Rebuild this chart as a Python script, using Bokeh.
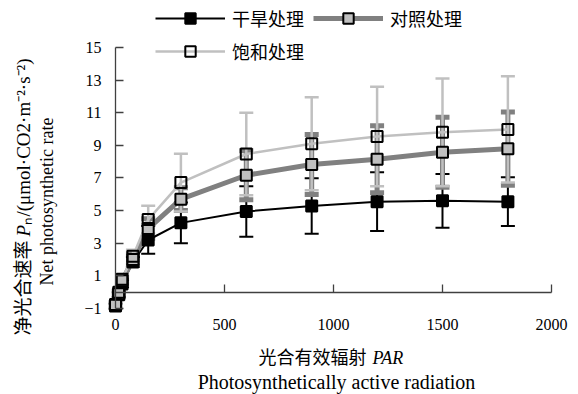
from math import pi
from bokeh.plotting import figure
from bokeh.models import (ColumnDataSource, Range1d, LinearAxis, FixedTicker, Whisker,
                          TeeHead, Legend, LegendItem, Label)
from bokeh.embed import file_html
from bokeh.resources import INLINE

# ---- data ----
par = [0, 15, 30, 80, 150, 300, 600, 900, 1200, 1500, 1800]
drought = [-0.85, -0.15, 0.5, 1.85, 3.2, 4.25, 4.95, 5.28, 5.55, 5.6, 5.55]
drought_sd = [0.15, 0.15, 0.2, 0.3, 0.85, 1.25, 1.55, 1.7, 1.8, 1.65, 1.5]
control = [-0.8, -0.1, 0.7, 2.0, 3.9, 5.7, 7.17, 7.83, 8.15, 8.58, 8.8]
control_sd = [0.15, 0.15, 0.2, 0.35, 0.6, 0.7, 1.5, 1.84, 2.05, 2.15, 2.24]
saturated = [-0.75, 0.0, 0.8, 2.2, 4.45, 6.72, 8.47, 9.1, 9.55, 9.8, 9.98]
saturated_sd = [0.15, 0.15, 0.2, 0.4, 0.85, 1.77, 2.53, 2.85, 3.05, 3.3, 3.25]

series_names = ["干旱处理", "对照处理", "饱和处理"]
x_ticks = [0, 500, 1000, 1500, 2000]
y_ticks = [-1, 1, 3, 5, 7, 9, 11, 13, 15]

FONT = "Liberation Serif, Noto Sans CJK SC"
AX = "#404040"
W, H = 578, 394


def make_src(vals, sd):
    return ColumnDataSource(dict(
        par=par, y=vals,
        upper=[v + s for v, s in zip(vals, sd)],
        lower=[v - s for v, s in zip(vals, sd)],
    ))


src_d = make_src(drought, drought_sd)
src_c = make_src(control, control_sd)
src_s = make_src(saturated, saturated_sd)

# frame covers the whole canvas; data 0 -> px 115, 2000 -> px 551; y 0 -> px 291.7, 15 -> px 47
p = figure(width=W, height=H, output_backend="svg", toolbar_location=None,
           x_range=Range1d(-527.5, 2123.9), y_range=Range1d(-6.271, 17.88),
           x_axis_location=None, y_axis_location=None,
           min_border_left=0, min_border_right=0, min_border_top=0,
           min_border_bottom=0)
p.outline_line_color = None
p.xgrid.visible = False
p.ygrid.visible = False
p.background_fill_color = "white"
p.border_fill_color = "white"

# ---- error bars ----
styles = [
    (src_d, "black", 2),
    (src_c, "#808080", 5),
    (src_s, "#c0c0c0", 2.5),
]
for src, col, w in styles:
    wk = Whisker(source=src, base="par", upper="upper", lower="lower",
                 line_color=col, line_width=w,
                 upper_head=TeeHead(size=14, line_color=col, line_width=w),
                 lower_head=TeeHead(size=14, line_color=col, line_width=w))
    p.add_layout(wk)

# ---- lines ----
ld = p.line("par", "y", source=src_d, line_color="black", line_width=2)
lc = p.line("par", "y", source=src_c, line_color="#808080", line_width=5)
ls = p.line("par", "y", source=src_s, line_color="#c0c0c0", line_width=2.5)

# ---- markers ----
md = p.scatter("par", "y", source=src_d, marker="square", size=11,
               fill_color="black", line_color="black", line_width=2)
mc = p.scatter("par", "y", source=src_c, marker="square", size=11,
               fill_color="#c0c0c0", line_color="black", line_width=2)
ms = p.scatter("par", "y", source=src_s, marker="square", size=11,
               fill_color="#c0c0c0", fill_alpha=0.0, line_color="black", line_width=2)

# ---- axes ----
xlab = LinearAxis(fixed_location=-1.49, ticker=FixedTicker(ticks=x_ticks),
                  axis_line_color=None,
                  major_tick_line_color=None, minor_tick_line_color=None,
                  major_tick_in=0, major_tick_out=0,
                  major_label_standoff=2, major_label_text_font=FONT,
                  major_label_text_font_size="16px", major_label_text_color="black")
p.add_layout(xlab, "below")

xline = LinearAxis(fixed_location=0, ticker=FixedTicker(ticks=x_ticks[1:]),
                   bounds=(0, 2000), major_tick_in=8, major_tick_out=0,
                   minor_tick_line_color=None,
                   major_label_overrides={t: "" for t in x_ticks[1:]},
                   axis_line_color=AX, major_tick_line_color=AX,
                   axis_line_width=1.3, major_tick_line_width=1.3)
p.add_layout(xline, "below")

yax = LinearAxis(fixed_location=0, ticker=FixedTicker(ticks=y_ticks),
                 bounds=(-1, 15), major_tick_in=8, major_tick_out=0,
                 minor_tick_line_color=None, major_label_standoff=14,
                 major_label_overrides={-1: "−1"},
                 major_label_text_font=FONT, major_label_text_font_size="16px",
                 major_label_text_color="black",
                 axis_line_color=AX, major_tick_line_color=AX,
                 axis_line_width=1.3, major_tick_line_width=1.3)
p.add_layout(yax, "left")

# ---- legend ----
legend = Legend(items=[
    LegendItem(label=series_names[0], renderers=[ld, md]),
    LegendItem(label=series_names[1], renderers=[lc, mc]),
    LegendItem(label=series_names[2], renderers=[ls, ms]),
], location=(155, H - 64), orientation="horizontal", ncols=2,
    border_line_color=None, background_fill_alpha=0, padding=0, margin=0,
    spacing=7, glyph_width=70, glyph_height=26, label_height=26, label_width=74,
    label_standoff=7, label_text_font=FONT, label_text_font_size="18px",
    label_text_color="black")
p.add_layout(legend)

# ---- axis titles (screen px, y measured from bottom of canvas) ----
common = dict(x_units="screen", y_units="screen", text_font=FONT, text_color="black",
              text_baseline="middle")
p.add_layout(Label(x=366, y=H - 357, text="光合有效辐射", text_align="right",
                   text_font_size="18px", **common))
p.add_layout(Label(x=372, y=H - 357, text="PAR", text_align="left",
                   text_font_style="italic", text_font_size="18px", **common))
p.add_layout(Label(x=336, y=H - 381, text="Photosynthetically active radiation",
                   text_align="center", text_font_size="20px", **common))

p.add_layout(Label(x=23, y=H - 335, text="净光合速率", text_align="left", angle=pi / 2,
                   text_font_size="19px", **common))
p.add_layout(Label(x=23, y=H - 236, text="P", text_align="left", angle=pi / 2,
                   text_font_style="italic", text_font_size="19px", **common))
p.add_layout(Label(x=23, y=H - 224, text="ₙ/(μmol·CO2·m⁻²·s⁻²)", text_align="left",
                   angle=pi / 2, text_font_size="19px", **common))
p.add_layout(Label(x=46, y=H - 201, text="Net photosynthetic rate", text_align="center",
                   angle=pi / 2, text_font_size="18px", **common))

open("out.html", "w").write(file_html(p, INLINE))
